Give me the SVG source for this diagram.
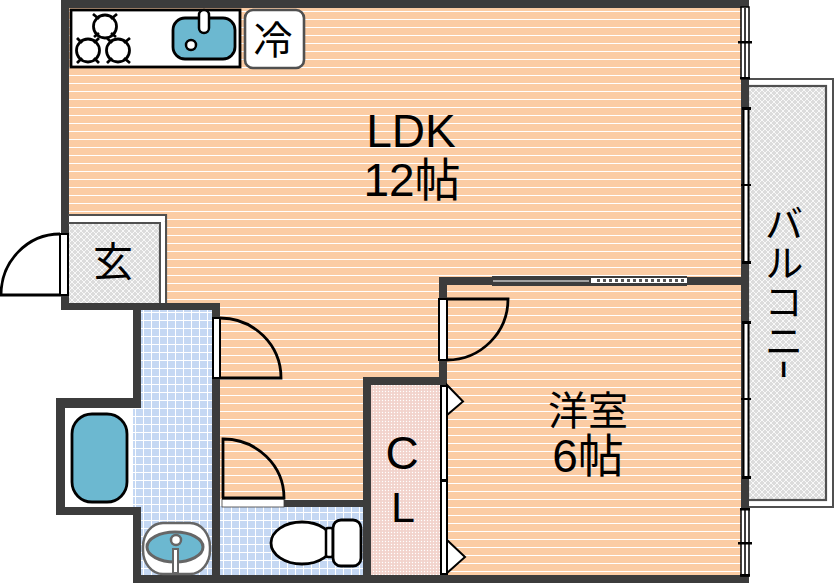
<svg xmlns="http://www.w3.org/2000/svg" width="834" height="583" viewBox="0 0 834 583">
<style>
.w{fill:#3c3c3c}
.d{fill:#fff;stroke:#000;stroke-width:2}
.s{fill:none;stroke:#000;stroke-width:2.8}
.b{fill:#6cb8d0;stroke:#000;stroke-width:2.8}
.t{font-family:"Liberation Sans","Noto Sans CJK JP",sans-serif;font-size:46px;fill:#000;text-anchor:middle}
.j{font-family:"Noto Sans CJK JP","Liberation Sans",sans-serif;fill:#000;text-anchor:middle}
.v{writing-mode:vertical-rl;text-anchor:start;font-size:39px}
.k{fill:#000}
</style>
<defs>
<pattern id="fl" width="8" height="8" patternUnits="userSpaceOnUse"><rect width="8" height="8" fill="#fbcca4"/><rect y="3" width="8" height="1" fill="#fff"/></pattern>
<pattern id="tl" width="8" height="8" patternUnits="userSpaceOnUse"><rect width="8" height="8" fill="#c5d8f3"/><rect x="7" width="1" height="8" fill="#fff"/><rect width="8" height="1" fill="#fff"/></pattern>
<pattern id="ht" width="6" height="6" patternUnits="userSpaceOnUse"><rect width="6" height="6" fill="#dcdcdc"/><path d="M0 0L6 6M6 0L0 6" stroke="#fff" stroke-width=".8"/></pattern>
<pattern id="pk" width="3" height="3" patternUnits="userSpaceOnUse"><rect width="3" height="3" fill="#f2d3cc"/><circle cx="1.5" cy="1.5" r=".7" fill="#fff"/></pattern>
</defs>
<rect width="834" height="583" fill="#fff"/>
<g id="floors">
<path d="M68 8H741V576H363V500H220V310H167V214H68Z" fill="url(#fl)"/>
<rect id="genkan-floor" x="68" y="223" width="92" height="81" fill="url(#ht)"/>
<rect x="141" y="310" width="72" height="266" fill="url(#tl)"/>
<rect x="133" y="405" width="10" height="103" fill="url(#tl)"/>
<rect x="220" y="506" width="144" height="70" fill="url(#tl)"/>
<rect x="371" y="385" width="70" height="191" fill="url(#pk)"/>
</g>
<g id="balcony">
<rect x="748" y="79" width="85" height="428" fill="#fff" stroke="#505050" stroke-width="2"/>
<rect x="748" y="86" width="78" height="414" fill="url(#ht)" stroke="#505050" stroke-width="2.2"/>
<rect x="741" y="72" width="8" height="442" class="w"/>
<text class="j v" x="784" y="204">バルコニ</text>
<text class="j v" transform="translate(784 362) scale(1 .5)" x="0" y="-5">ー</text>
</g>
<g id="walls">
<rect class="w" x="61" y="0" width="688" height="8"/>
<rect class="w" x="61" y="0" width="8" height="310"/>
<rect class="w" x="61" y="303" width="159" height="7"/>
<rect class="w" x="133" y="303" width="8" height="103"/>
<rect class="w" x="212" y="303" width="8" height="280"/>
<rect class="w" x="56" y="398" width="85" height="10"/>
<rect class="w" x="56" y="398" width="10" height="117"/>
<rect class="w" x="56" y="507" width="85" height="8"/>
<rect class="w" x="133" y="507" width="8" height="76"/>
<rect class="w" x="133" y="575" width="616" height="8"/>
<rect class="w" x="284" y="500" width="87" height="7"/>
<rect class="w" x="363" y="377" width="8" height="206"/>
<rect class="w" x="363" y="377" width="84" height="8"/>
<rect class="w" x="439" y="277" width="8" height="108"/>
<rect class="w" x="439" y="277" width="302" height="8"/>
<rect class="w" x="440" y="385" width="7" height="198"/>
<path d="M68 223H160V303M68 215H166V303" fill="none" stroke="#505050" stroke-width="2.2"/>
<rect x="69" y="216" width="96" height="5" fill="#fff"/>
<rect x="161" y="222" width="4" height="81" fill="#fff"/>
</g>
<g id="right-windows">
<rect x="741" y="7" width="8" height="71" fill="#fff" stroke="#000" stroke-width="1.5"/>
<rect x="744" y="7" width="2" height="71" class="w"/>
<rect x="738" y="41" width="14" height="2.5" class="k"/>
<rect x="740" y="77" width="10" height="2.5" class="k"/>
<rect x="743.500" y="108" width="5" height="154" fill="#fff" stroke="#000" stroke-width="2"/>
<rect x="742" y="107" width="9" height="3" class="k"/><rect x="741" y="184" width="10" height="2" class="k"/><rect x="742" y="261" width="9" height="3" class="k"/>
<rect x="743.500" y="322" width="5" height="155" fill="#fff" stroke="#000" stroke-width="2"/>
<rect x="742" y="321" width="9" height="3" class="k"/><rect x="741" y="398" width="10" height="2" class="k"/><rect x="742" y="476" width="9" height="3" class="k"/>
<rect x="741" y="509" width="8" height="67" fill="#fff" stroke="#000" stroke-width="1.5"/>
<rect x="744" y="509" width="2" height="67" class="w"/>
<rect x="738" y="542" width="14" height="2.5" class="k"/>
<rect x="740" y="508" width="10" height="2.5" class="k"/><rect x="740" y="574" width="10" height="2.5" class="k"/>
</g>
<g id="kitchen">
<rect x="71" y="10" width="169" height="57" fill="#fff" stroke="#000" stroke-width="2.8"/>
<path class="s" d="M93 14L99 19M117 14L111 19M94 37L99 33M116 37L111 33M77 38L82 43M99 38L94 43M77 63L82 58M99 63L94 58M107 38L112 43M130 38L124 43M107 63L112 58M130 63L124 58"/>
<circle class="s" cx="105" cy="26.500" r="11.500"/><circle class="s" cx="88" cy="50.500" r="11.500"/><circle class="s" cx="118" cy="50.500" r="11.500"/>
<rect class="b" x="173" y="18" width="62" height="41" rx="12"/>
<rect x="199" y="10" width="10" height="23" rx="5" fill="#fff" stroke="#000" stroke-width="2.5"/>
<circle cx="191" cy="45" r="5" fill="#fff" stroke="#000" stroke-width="2.5"/>
</g>
<g id="fridge">
<rect x="245" y="10" width="59" height="58" rx="8" fill="#fff" stroke="#505050" stroke-width="2.6"/>
<text class="j" x="273" y="54" font-size="39">冷</text>
</g>
<g id="ldk"><text class="t" x="411" y="147">LDK</text><text class="t" x="412" y="196">12帖</text></g>
<g id="genkan">
<rect x="60" y="234" width="8" height="61" class="d"/>
<path class="s" d="M60 234A59 61 0 0 0 1 295H61"/>
<text class="j" x="113" y="276" font-size="40">玄</text>
</g>
<g id="bath">
<rect x="65" y="408" width="68" height="99" fill="#fff"/>
<rect class="b" x="72" y="414" width="55" height="88" rx="20"/>
</g>
<g id="washroom">
<rect x="143" y="523" width="67" height="51" rx="20" ry="24" fill="#fff" stroke="#666" stroke-width="2.5"/>
<ellipse cx="175" cy="547" rx="28" ry="15" fill="#6cb8d0" stroke="#666" stroke-width="3"/>
<circle cx="176" cy="540" r="5" fill="#fff" stroke="#666" stroke-width="2.5"/>
<rect x="173" y="549" width="5" height="24" fill="#fff" stroke="#666" stroke-width="2"/>
<rect x="213" y="318" width="7" height="60" class="d"/>
<path class="s" d="M220 318A61 60 0 0 1 281 378H220"/>
</g>
<g id="toilet">
<rect x="222" y="499" width="62" height="8" fill="#fff" stroke="#3c3c3c" stroke-width=".8"/>
<path class="s" d="M223 498V439A61 59 0 0 1 284 498H222"/>
<ellipse cx="302" cy="543" rx="31" ry="21" fill="#fff" stroke="#000" stroke-width="2.8"/>
<rect x="326" y="528" width="7" height="29" rx="2" fill="#fff" stroke="#000" stroke-width="2.5"/>
<rect x="333" y="520" width="28" height="46" rx="8" fill="#fff" stroke="#000" stroke-width="2.8"/>
</g>
<g id="closet">
<rect x="441" y="386" width="6" height="94" class="d"/><rect x="441" y="481" width="6" height="93" class="d"/>
<path d="M447 385L463 401.500L447 415Z" class="d"/><path d="M447 540L465 557L447 573Z" class="d"/>
<text class="t" x="402" y="469">C</text>
<text class="t" x="403" y="522" style="font-size:43px">L</text>
</g>
<g id="youshitsu">
<rect x="439" y="299" width="8" height="61" class="d"/>
<path class="s" d="M447 299H508A61 61 0 0 1 447 360"/>
<rect x="492" y="276" width="195" height="10" class="w"/>
<rect x="493" y="280" width="96" height="2" fill="#a0a0a0"/>
<rect x="591" y="278" width="96" height="5" fill="#fff"/>
<path d="M597 280.500H686" stroke="#555" stroke-width="3" stroke-dasharray="3 3"/>
<text class="j" x="588" y="425" font-size="40">洋室</text>
<text class="t" x="588" y="472">6帖</text>
</g>
</svg>
